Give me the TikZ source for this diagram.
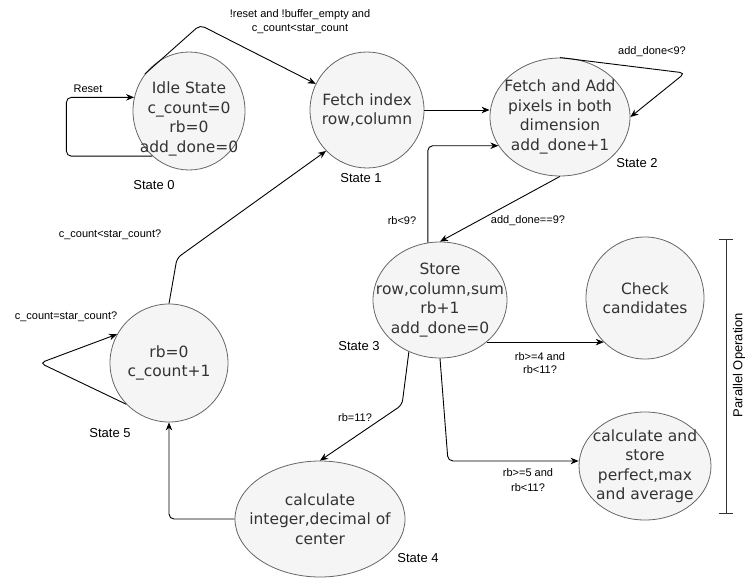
\documentclass[tikz,border=0pt]{standalone}
\usepackage{fontspec}
\setmainfont{Liberation Sans}
\newfontfamily\statefont{DejaVu Sans}
\usetikzlibrary{shapes.geometric,arrows.meta,calc}

\definecolor{fillgray}{HTML}{F5F5F5}
\definecolor{strokegray}{HTML}{666666}
\definecolor{textgray}{HTML}{333333}

\tikzset{
  st/.style={ellipse, draw=strokegray, fill=fillgray, line width=0.8pt, inner sep=0pt},
  sttext/.style={align=center, inner sep=0pt, text=textgray,
    font=\statefont\fontsize{15.5}{19.5}\selectfont},
  arr/.style={-{Stealth[length=8pt,width=6.5pt,inset=2.5pt]}, line width=0.9pt,
    rounded corners=5pt},
  lbl/.style={align=center, inner sep=0pt, font=\fontsize{11}{13.5}\selectfont},
  tag/.style={inner sep=0pt, font=\fontsize{13}{15}\selectfont},
  bar/.style={draw=textgray, line width=0.9pt}
}

\begin{document}
\begin{tikzpicture}[x=1pt,y=-1pt]
\useasboundingbox (0,0) rectangle (746,578);

% states
\node[st, minimum width=112pt, minimum height=118pt] (s0) at (189,111) {};
\node[sttext] (s0t) at (189,119) {Idle State\\c\_count=0\\rb=0\\add\_done=0};
\node[st, minimum width=114pt, minimum height=116pt] (s1) at (367,110) {};
\node[sttext] (s1t) at (s1) {Fetch index\\row,column};
\node[st, minimum width=140pt, minimum height=118pt] (s2) at (560,117) {};
\node[sttext] (s2t) at (s2) {Fetch and Add\\pixels in both\\dimension\\add\_done+1};
\node[st, minimum width=134pt, minimum height=116pt] (s3) at (440,300) {};
\node[sttext] (s3t) at (s3) {Store\\row,column,sum\\rb+1\\add\_done=0};
\node[st, minimum width=118pt, minimum height=122pt] (cc) at (645,298) {};
\node[sttext] (cct) at (cc) {Check\\candidates};
\node[st, minimum width=132pt, minimum height=108pt] (cs) at (645,466) {};
\node[sttext] (cst) at (cs) {calculate and\\store\\perfect,max\\and average};
\node[st, minimum width=118pt, minimum height=118pt] (s5) at (169,363) {};
\node[sttext] (s5t) at (s5) {rb=0\\c\_count+1};
\node[st, minimum width=170pt, minimum height=116pt] (s4) at (320,519) {};
\node[sttext] (s4t) at (s4) {calculate\\integer,decimal of\\center};

% state tags
\node[tag] (g0) at (154,185) {State 0};
\node[tag] (g1) at (361,178) {State 1};
\node[tag] (g2) at (637,163) {State 2};
\node[tag] (g3) at (359,346) {State 3};
\node[tag] (g4) at (418,558) {State 4};
\node[tag] (g5) at (110,433) {State 5};

% bend points
\coordinate (k1) at (200,25);
\coordinate (k2) at (685,73);
\coordinate (k3) at (448,461);
\coordinate (k4) at (402,405);
\coordinate (k5) at (40,363);
\coordinate (k6) at (177,258);

% transitions
\draw[arr] (s0.231) -- ++(-86,0) |- (s0.166);
\draw[arr] (s0.140) -- (k1) -- (s1.153);
\draw[arr] (s1.east) -- (s1.east -| s2.west);
\draw[arr] (s2.north) -- (k2) -- (s2.east);
\draw[arr] (s3.102) |- (s2.205);
\draw[arr] (s2.south) -- (s3.north);
\draw[arr] (s3.318) -- (s3.318 -| cc.227);
\draw[arr] (s3.south) -- (k3) -- (k3 -| cs.west);
\draw[arr] (s3.239) -- (k4) -- (s4.north);
\draw[arr] (s4.west) -| (s5.south);
\draw[arr] (s5.224) -- (k5) -- (s5.151);
\draw[arr] (s5.north) -- (k6) -- (s1.225);

% transition labels
\node[lbl, font=\fontsize{11}{14}\selectfont] (l1) at (300,22) {!reset and !buffer\_empty and\\c\_count<star\_count};
\node[lbl] (l2) at (88,89) {Reset};
\node[lbl] (l3) at (652,52) {add\_done<9?};
\node[lbl] (l4) at (402,221) {rb<9?};
\node[lbl] (l5) at (528,221) {add\_done==9?};
\node[lbl, font=\fontsize{11}{12.6}\selectfont] (l6) at (540,363) {rb>=4 and\\rb<11?};
\node[lbl, font=\fontsize{11}{14.5}\selectfont] (l7) at (528,480) {rb>=5 and\\rb<11?};
\node[lbl] (l8) at (355,418) {rb=11?};
\node[lbl] (l9) at (66,317) {c\_count=star\_count?};
\node[lbl] (l10) at (110,235) {c\_count<star\_count?};

% parallel operation bracket
\coordinate (p1) at (726,239);
\coordinate (p2) at (726,513);
\draw[bar] (p1) -- (p2);
\draw[bar] ($(p1)+(-7,0)$) -- ($(p1)+(7,0)$);
\draw[bar] ($(p2)+(-7,0)$) -- ($(p2)+(7,0)$);
\node[tag, rotate=90] (par) at (739,365) {Parallel Operation};
\end{tikzpicture}
\end{document}
